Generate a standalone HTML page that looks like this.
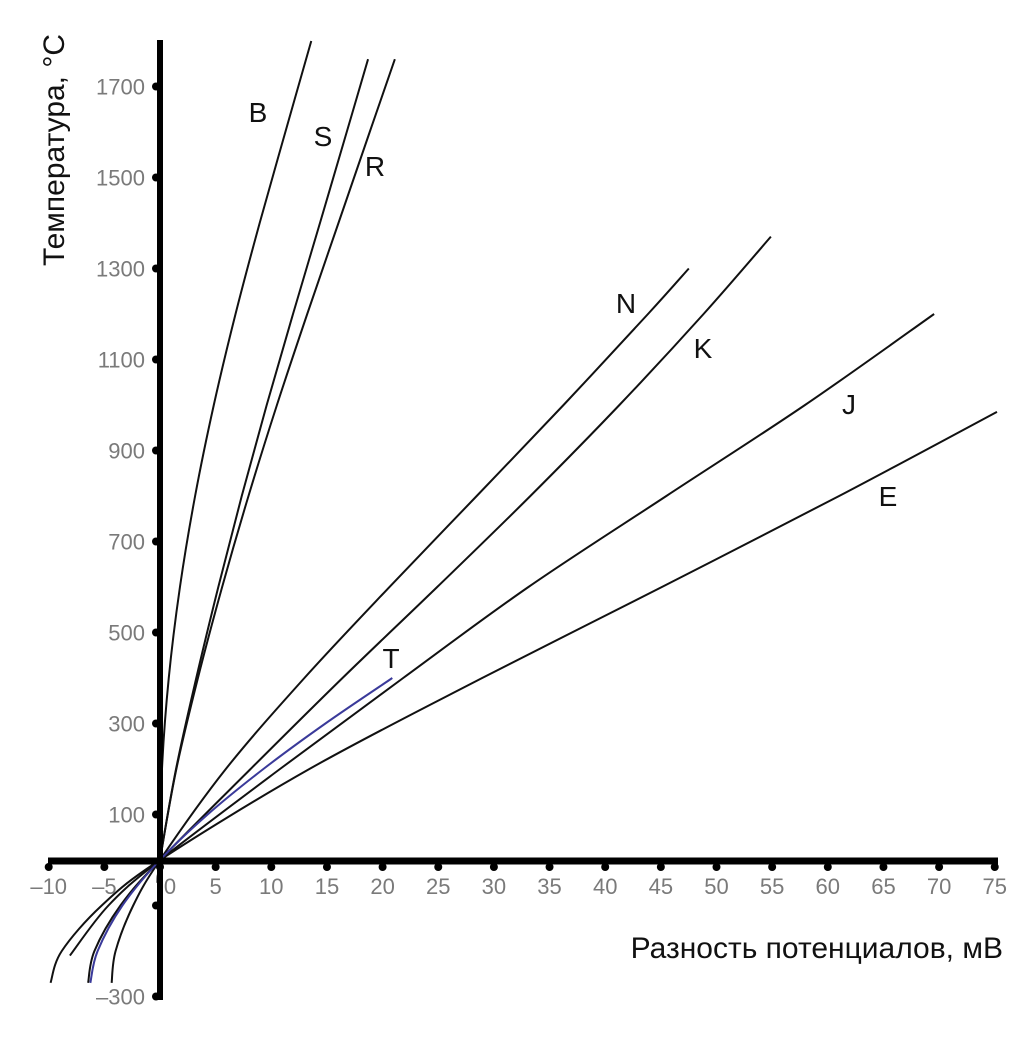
<!DOCTYPE html>
<html><head><meta charset="utf-8"><style>
body{margin:0;background:#fff}
svg{display:block}
.tk{font-family:"Liberation Sans Narrow","Liberation Sans",sans-serif;font-size:22px;fill:#7a7a7a}
.lb{font-family:"Liberation Sans Narrow","Liberation Sans",sans-serif;font-size:28px;fill:#111}
.tt{font-family:"Liberation Sans Narrow","Liberation Sans",sans-serif;font-size:30px;fill:#111}
</style></head><body>
<svg id="chart" width="1031" height="1038" viewBox="0 0 1031 1038">
<g id="curves"></g>
<g id="axes"></g>
<text class="tt" x="1003" y="958" text-anchor="end">Разность потенциалов, мВ</text>
<text class="tt" transform="translate(64,150) rotate(-90)" text-anchor="middle">Температура, °С</text>
</svg>
<script>
const xTicks=[-10,-5,0,5,10,15,20,25,30,35,40,45,50,55,60,65,70,75];
const yTicks=[100,300,500,700,900,1100,1300,1500,1700];
const bT=[0,200,400,600,800,1000,1200,1400,1600,1800];
const bV=[0,0.178,0.787,1.792,3.154,4.834,6.786,8.956,11.263,13.591];
const sT=[-50,0,200,400,600,800,1000,1200,1400,1600,1760];
const sV=[-0.236,0,1.441,3.259,5.239,7.345,9.587,11.951,14.373,16.777,18.693];
const rT=[-50,0,200,400,600,800,1000,1200,1400,1600,1760];
const rV=[-0.226,0,1.469,3.408,5.583,7.950,10.506,13.228,16.035,18.842,21.101];
const nT=[-270,-200,-100,0,200,400,600,800,1000,1200,1300];
const nV=[-4.345,-3.990,-2.407,0,5.913,12.974,20.613,28.455,36.256,43.846,47.513];
const kT=[-270,-200,-100,0,200,400,600,800,1000,1200,1370];
const kV=[-6.458,-5.891,-3.554,0,8.138,16.397,24.905,33.275,41.276,48.838,54.886];
const jT=[-210,-100,0,200,400,600,800,1000,1200];
const jV=[-8.095,-4.633,0,10.779,21.848,33.102,45.494,57.953,69.553];
const eT=[-270,-200,-100,0,200,400,600,800,985];
const eV=[-9.835,-8.825,-5.237,0,13.421,28.946,45.093,61.017,75.2];
const tT=[-270,-200,-100,0,100,200,300,400];
const tV=[-6.258,-5.603,-3.379,0,4.279,9.288,14.862,20.872];
const X=v=>160+v*11.13;
const Y=t=>860-t*0.455;
const NS="http://www.w3.org/2000/svg";
function mk(tag,attrs,parent){const e=document.createElementNS(NS,tag);for(const k in attrs)e.setAttribute(k,attrs[k]);parent.appendChild(e);return e;}
const cg=document.getElementById('curves'), ag=document.getElementById('axes'), svg=document.getElementById('chart');
function curve(T,V,name,color,lx,ly){
 // Catmull-Rom smooth path
 const p=T.map((t,i)=>[X(V[i]),Y(t)]);
 let d='M'+p[0][0]+','+p[0][1];
 for(let i=0;i<p.length-1;i++){const p0=p[i-1]||p[i],p1=p[i],p2=p[i+1],p3=p[i+2]||p2;
  d+=' C'+(p1[0]+(p2[0]-p0[0])/6)+','+(p1[1]+(p2[1]-p0[1])/6)+' '+(p2[0]-(p3[0]-p1[0])/6)+','+(p2[1]-(p3[1]-p1[1])/6)+' '+p2[0]+','+p2[1];}
 const el=mk('path',{d:d,fill:'none',stroke:color,'stroke-width':2},cg);
 
 
 const tx=mk('text',{x:lx,y:ly,class:'lb','text-anchor':'middle'},svg);
 tx.textContent=name.toUpperCase();
 
 
}
curve(bT,bV,'b','#111',258,122);
curve(sT,sV,'s','#111',323,146);
curve(rT,rV,'r','#111',375,176);
curve(nT,nV,'n','#111',626,313);
curve(kT,kV,'k','#111',703,358);
curve(jT,jV,'j','#111',849,414);
curve(eT,eV,'e','#111',888,506);
curve(tT,tV,'t','#3a3a9a',391,668);
// axes
let a=mk('line',{x1:160,y1:40,x2:160,y2:1000,stroke:'#000','stroke-width':6},ag);


a=mk('line',{x1:48,y1:861,x2:998,y2:861,stroke:'#000','stroke-width':7},ag);


xTicks.forEach(v=>{
 const x=X(v);
 const c=mk('circle',{cx:x,cy:867,r:4,fill:'#000'},ag);
 
 
 const t=mk('text',{x:v===0?x+10:x,y:894,class:'tk','text-anchor':'middle'},ag);
 t.textContent=v<0?'\u2013'+(-v):String(v);
 
 
});
yTicks.concat([-100,-300]).forEach(v=>{
 const y=Y(v);
 const c=mk('circle',{cx:156,cy:y,r:4,fill:'#000'},ag);
 
 
 if(v===-100)return;
 const t=mk('text',{x:145,y:y+8,class:'tk','text-anchor':'end'},ag);
 t.textContent=v<0?'\u2013'+(-v):String(v);
 
 
});
</script>
</body></html>
